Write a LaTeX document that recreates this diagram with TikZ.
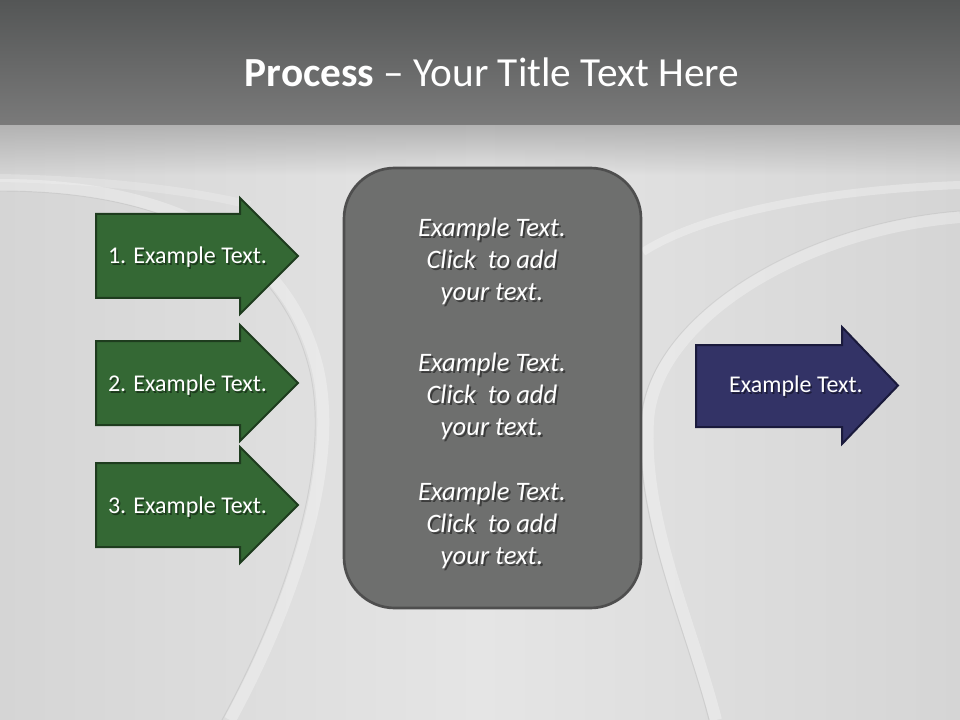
\documentclass[tikz,border=0pt]{standalone}
\usepackage{fontspec}
\usetikzlibrary{fadings}
\setmainfont{Carlito}
\definecolor{bandtop}{HTML}{545656}
\definecolor{bandbot}{HTML}{7A7A7A}
\definecolor{bgside}{HTML}{D5D5D5}
\definecolor{bgmid}{HTML}{E5E5E5}
\definecolor{greenfill}{HTML}{346834}
\definecolor{greenline}{HTML}{1E3C1E}
\definecolor{bluefill}{HTML}{333366}
\definecolor{blueline}{HTML}{1A1A3C}
\definecolor{boxfill}{HTML}{6E6F6E}
\definecolor{boxline}{HTML}{4E4E4E}
\begin{document}
\begin{tikzpicture}[x=0.75pt,y=-0.75pt,
  band/.style={line width=9pt,draw=white,opacity=.3},
  bandedge/.style={line width=0.7pt,draw=black!30,opacity=.35},
  greenarrow/.style={fill=greenfill,draw=greenline,line width=1.5pt,line join=miter},
  bluearrow/.style={fill=bluefill,draw=blueline,line width=1.5pt,line join=miter},
  centrebox/.style={fill=boxfill,draw=boxline,line width=2pt,rounded corners=38pt},
  txt/.style={text=white,font=\fontsize{18}{22}\selectfont,inner sep=0pt},
  shtxt/.style={text=black,opacity=.45,font=\fontsize{18}{22}\selectfont,inner sep=0pt},
  btxt/.style={text=white,font=\fontsize{20}{24}\selectfont\itshape,align=center,inner sep=0pt},
  bshtxt/.style={text=black,opacity=.45,font=\fontsize{20}{24}\selectfont\itshape,align=center,inner sep=0pt},
  titletxt/.style={text=white,font=\fontsize{31}{36}\selectfont,inner sep=0pt}
]
\useasboundingbox (0,0) rectangle (960,720);
% background
\fill[left color=bgside,right color=bgside,middle color=bgmid] (0,0) rectangle (960,720);
\fill[black!30,path fading=south] (0,124) rectangle (960,175);
\fill[top color=bandtop,bottom color=bandbot] (0,0) rectangle (960,125);
% background curves
\draw[band] (0,185) .. controls (180,185) and (290,250) .. (318,370) .. controls (340,470) and (290,610) .. (230,720);
\draw[bandedge] (0,191) .. controls (176,191) and (282,254) .. (310,372) .. controls (332,470) and (282,610) .. (222,720);
\draw[band] (960,217) .. controls (800,230) and (655,320) .. (648,420) .. controls (642,520) and (690,620) .. (716,720);
\draw[bandedge] (960,211) .. controls (796,224) and (648,318) .. (641,420) .. controls (635,520) and (683,620) .. (709,720);
\draw[band,line width=6pt,opacity=.3] (960,185) .. controls (820,190) and (700,215) .. (643,252);
\draw[band,line width=6pt,opacity=.2] (0,178) .. controls (100,180) and (190,190) .. (250,205);
% title
\node[titletxt,anchor=base] (title) at (492,87) {\textbf{Process} – Your Title Text Here};
% green arrows
\path[greenarrow] (96,214) -- (240,214) -- (240,198) -- (298,256) -- (240,314) -- (240,298) -- (96,298) -- cycle;
\path[greenarrow] (96,341) -- (240,341) -- (240,325) -- (298,383) -- (240,441) -- (240,425) -- (96,425) -- cycle;
\path[greenarrow] (96,463) -- (240,463) -- (240,447) -- (298,505) -- (240,563) -- (240,547) -- (96,547) -- cycle;
\node[shtxt,anchor=base] (s1) at (189,266) {1. Example Text.};
\node[txt,anchor=base] (t1) at (187.5,264) {1. Example Text.};
\node[shtxt,anchor=base] (s2) at (189,393) {2. Example Text.};
\node[txt,anchor=base] (t2) at (187.5,391) {2. Example Text.};
\node[shtxt,anchor=base] (s3) at (189,515) {3. Example Text.};
\node[txt,anchor=base] (t3) at (187.5,513) {3. Example Text.};
% blue arrow
\path[bluearrow] (696,345) -- (842,345) -- (842,327) -- (898,385.5) -- (842,444) -- (842,427) -- (696,427) -- cycle;
\node[shtxt,anchor=base] (s4) at (797.5,394.5) {Example Text.};
\node[txt,anchor=base] (t4) at (796,392.5) {Example Text.};
% centre box
\path[centrebox] (344,168) rectangle (641,608);
\node[bshtxt] (bs1) at (494,263) {Example Text.\\Click\ \ to add\\your text.};
\node[btxt] (b1) at (492,261) {Example Text.\\Click\ \ to add\\your text.};
\node[bshtxt] (bs2) at (494,398) {Example Text.\\Click\ \ to add\\your text.};
\node[btxt] (b2) at (492,396) {Example Text.\\Click\ \ to add\\your text.};
\node[bshtxt] (bs3) at (494,527) {Example Text.\\Click\ \ to add\\your text.};
\node[btxt] (b3) at (492,525) {Example Text.\\Click\ \ to add\\your text.};
\end{tikzpicture}
\end{document}
